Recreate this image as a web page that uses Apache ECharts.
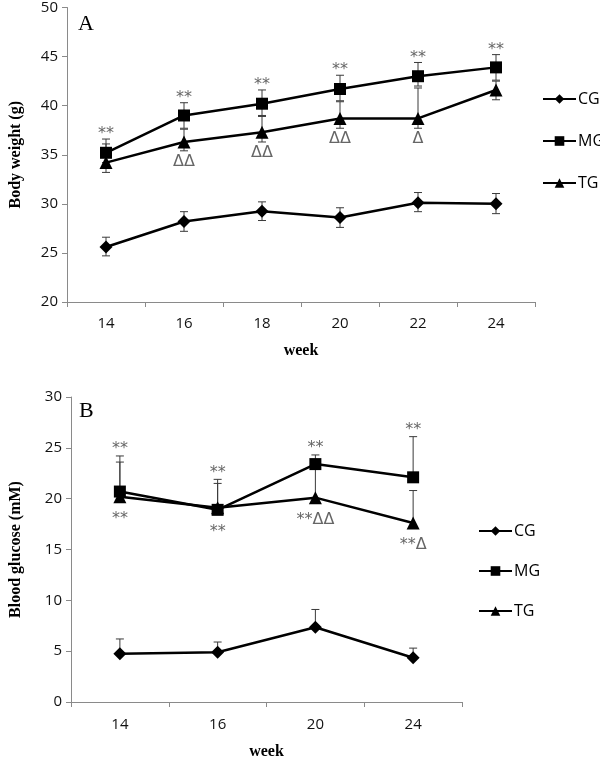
<!DOCTYPE html>
<html>
<head>
<meta charset="utf-8">
<script src="https://cdn.jsdelivr.net/npm/echarts@6/dist/echarts.min.js"></script>
<style>
  html, body { margin: 0; background: #fff; }
  #chart { width: 600px; height: 761px; }
</style>
</head>
<body>
<div id="chart"></div>
<script>
// ===== Data: panel A (body weight, g) =====
const weeksA = ['14', '16', '18', '20', '22', '24'];
const cgA   = [25.6, 28.2, 29.25, 28.6, 30.1, 30.0];
const cgAHi = [26.6, 29.2, 30.2, 29.6, 31.15, 31.05];
const cgALo = [24.7, 27.2, 28.3, 27.6, 29.2, 29.0];
const mgA   = [35.2, 39.0, 40.2, 41.7, 43.0, 43.9];
const mgAHi = [36.6, 40.3, 41.6, 43.1, 44.4, 45.2];
const mgALo = [34.2, 37.7, 39.0, 40.5, 42.0, 42.6];
const tgA   = [34.2, 36.3, 37.3, 38.7, 38.7, 41.6];
const tgAHi = [36.1, 37.6, 38.9, 40.4, 41.8, 42.5];
const tgALo = [33.2, 35.4, 36.3, 37.7, 37.7, 40.6];
const notesAboveA = ['**', '**', '**', '**', '**', '**'];
const notesBelowA = ['', 'ΔΔ', 'ΔΔ', 'ΔΔ', 'Δ', ''];

// ===== Data: panel B (blood glucose, mM) =====
const weeksB = ['14', '16', '20', '24'];
const cgB   = [4.75, 4.9, 7.35, 4.35];
const cgBHi = [6.2, 5.9, 9.1, 5.3];
const mgB   = [20.7, 18.9, 23.4, 22.1];
const mgBHi = [24.2, 21.9, 24.3, 26.1];
const tgB   = [20.2, 19.1, 20.1, 17.6];
const tgBHi = [23.6, 21.5, 23.4, 20.8];
const notesAboveB = ['**', '**', '**', '**'];
const notesBelowB = ['**', '**', '**ΔΔ', '**Δ'];

const SANS  = '"Open Sans", "DejaVu Sans", sans-serif';
const NOTE  = '"DejaVu Sans", sans-serif';
const SERIF = '"Liberation Serif", "Times New Roman", serif';
const AXIS_GRAY = '#8a8a8a';
const BAR_GRAY  = '#3a3a3a';
const NOTE_GRAY = '#666666';

const chart = echarts.init(document.getElementById('chart'));

function xAxis(gridIndex, data, nameGap, labelMargin) {
  return {
    type: 'category', gridIndex, data, boundaryGap: true,
    name: 'week', nameLocation: 'middle', nameGap,
    nameTextStyle: { fontFamily: SERIF, fontWeight: 'bold', fontSize: 16, color: '#000' },
    axisLine: { lineStyle: { color: AXIS_GRAY, width: 1 } },
    axisTick: { show: true, length: 5, lineStyle: { color: AXIS_GRAY } },
    axisLabel: { color: '#111', fontFamily: SANS, fontSize: 15, margin: labelMargin },
    splitLine: { show: false },
  };
}

function yAxis(gridIndex, name, min, max, nameGap) {
  return {
    type: 'value', gridIndex, min, max, interval: 5,
    name, nameLocation: 'middle', nameGap,
    nameTextStyle: { fontFamily: SERIF, fontWeight: 'bold', fontSize: 16, color: '#000' },
    axisLine: { show: true, lineStyle: { color: AXIS_GRAY, width: 1 } },
    axisTick: { show: true, length: 5, lineStyle: { color: AXIS_GRAY } },
    axisLabel: { color: '#111', fontFamily: SANS, fontSize: 15, margin: 9 },
    splitLine: { show: false },
  };
}

const SYMBOLS = { CG: 'diamond', MG: 'rect', TG: 'triangle' };
const SIZES   = { CG: 13, MG: 12, TG: 13 };

function lineSeries(name, idx, data) {
  return {
    name, type: 'line', xAxisIndex: idx, yAxisIndex: idx, data, z: 3,
    symbol: SYMBOLS[name], symbolSize: SIZES[name],
    lineStyle: { color: '#000', width: 2.5 },
    itemStyle: { color: '#000' },
    emphasis: { disabled: true },
  };
}

// error bars: vertical line hi..lo, caps on each drawn end
function errorSeries(idx, vals, hi, lo) {
  return {
    type: 'custom', xAxisIndex: idx, yAxisIndex: idx, z: 2, silent: true,
    data: vals.map((v, i) => [i, hi[i], lo ? lo[i] : v]),
    renderItem(params, api) {
      const top = api.coord([api.value(0), api.value(1)]);
      const bot = api.coord([api.value(0), api.value(2)]);
      const w = 4;
      const st = { stroke: BAR_GRAY, lineWidth: 1 };
      const kids = [
        { type: 'line', shape: { x1: top[0], y1: top[1], x2: bot[0], y2: bot[1] }, style: st },
        { type: 'line', shape: { x1: top[0] - w, y1: top[1], x2: top[0] + w, y2: top[1] }, style: st },
      ];
      if (lo) kids.push({ type: 'line', shape: { x1: bot[0] - w, y1: bot[1], x2: bot[0] + w, y2: bot[1] }, style: st });
      return { type: 'group', children: kids };
    },
  };
}

// significance marks, anchored on a data value and shifted by dy pixels
function noteSeries(idx, anchors, texts, dy) {
  return {
    type: 'custom', xAxisIndex: idx, yAxisIndex: idx, z: 4, silent: true,
    data: anchors.map((v, i) => [i, v]),
    renderItem(params, api) {
      const text = texts[params.dataIndex];
      if (!text) return;
      const p = api.coord([api.value(0), api.value(1)]);
      return {
        type: 'text', x: p[0], y: p[1] + dy,
        style: { text, fill: NOTE_GRAY, font: '16px ' + NOTE, align: 'center', verticalAlign: 'middle' },
      };
    },
  };
}

const lowerB = mgB.map((m, i) => Math.min(m, tgB[i]));

function legend(left, top, gap) {
  return {
    data: ['CG', 'MG', 'TG'], orient: 'vertical', left, top, itemGap: gap,
    itemWidth: 33, itemHeight: 12, selectedMode: false,
    textStyle: { color: '#000', fontFamily: SANS, fontSize: 16, lineHeight: 16, padding: [0, 0, 0, -3] },
  };
}

chart.setOption({
  animation: false,
  grid: [
    { left: 61, right: 65, top: 7, height: 295 },
    { left: 65, right: 138, top: 397, height: 307 },
  ],
  legend: [legend(537, 86, 26), legend(473, 518, 24)],
  xAxis: [xAxis(0, weeksA, 41, 14), xAxis(1, weeksB, 42, 15)],
  yAxis: [yAxis(0, 'Body weight (g)', 20, 50, 43), yAxis(1, 'Blood glucose (mM)', 0, 30, 47)],
  graphic: [
    { type: 'text', left: 78, top: 13, style: { text: 'A', font: '22px ' + SERIF, fill: '#000' } },
    { type: 'text', left: 79, top: 400, style: { text: 'B', font: '22px ' + SERIF, fill: '#000' } },
  ],
  series: [
    errorSeries(0, cgA, cgAHi, cgALo),
    errorSeries(0, mgA, mgAHi, mgALo),
    errorSeries(0, tgA, tgAHi, tgALo),
    lineSeries('CG', 0, cgA),
    lineSeries('MG', 0, mgA),
    lineSeries('TG', 0, tgA),
    noteSeries(0, mgAHi, notesAboveA, -5),
    noteSeries(0, tgALo, notesBelowA, 11),

    errorSeries(1, cgB, cgBHi, null),
    errorSeries(1, mgB, mgBHi, null),
    errorSeries(1, tgB, tgBHi, null),
    lineSeries('CG', 1, cgB),
    lineSeries('MG', 1, mgB),
    lineSeries('TG', 1, tgB),
    noteSeries(1, mgBHi, notesAboveB, -7),
    noteSeries(1, lowerB, notesBelowB, 22),
  ],
});
</script>
</body>
</html>
